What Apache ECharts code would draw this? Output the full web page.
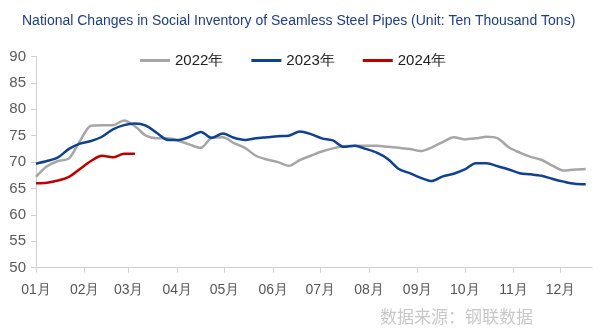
<!DOCTYPE html>
<html>
<head>
<meta charset="utf-8">
<script src="https://cdn.jsdelivr.net/npm/echarts@6/dist/echarts.min.js"></script>
<style>html,body{margin:0;padding:0;background:#fff;}#c{width:600px;height:329px;}</style>
</head>
<body>
<div id="c"></div>
<script>
// Weekly data points (week index 0 = first week of January, one point per week)
const seriesNames = ['2022年', '2023年', '2024年'];
const data2022 = [67.2,69.2,70.2,70.7,74.0,76.9,77.0,77.0,77.9,76.8,75.0,74.5,74.5,74.0,73.3,72.7,74.6,74.7,73.6,72.7,71.2,70.5,70.0,69.3,70.4,71.2,72.0,72.6,73.0,73.1,73.1,73.1,72.9,72.7,72.5,72.1,72.8,73.8,74.7,74.3,74.5,74.8,74.5,72.8,71.8,71.0,70.4,69.3,68.4,68.6,68.7];
const data2023 = [69.7,70.2,70.9,72.5,73.5,74.0,74.8,76.2,77.0,77.3,76.9,75.5,74.2,74.2,74.8,75.7,74.6,75.4,74.6,74.2,74.5,74.7,74.9,75.0,75.8,75.3,74.5,74.1,72.9,73.1,72.5,71.8,70.6,68.7,67.9,67.0,66.4,67.3,67.8,68.6,69.8,69.8,69.2,68.6,67.9,67.7,67.4,66.8,66.3,65.9,65.8];
const data2024 = [66.0,66.1,66.5,67.2,68.7,70.2,71.2,70.9,71.6,71.6];
const monthStartDays = [0,31,59,90,120,151,181,212,243,273,304,334];
const monthLabels = ['01月','02月','03月','04月','05月','06月','07月','08月','09月','10月','11月','12月'];
const yTicks = [50,55,60,65,70,75,80,85,90];
const colors = ['#A6A6A6', '#0E4194', '#C00000'];

const toPoints = arr => arr.map((v, i) => [i * 7, v]);

const chart = echarts.init(document.getElementById('c'));
chart.setOption({
  animation: false,
  backgroundColor: '#fff',
  title: {
    text: 'National Changes in Social Inventory of Seamless Steel Pipes (Unit: Ten Thousand Tons)',
    left: 17, top: 9,
    textStyle: { fontFamily: 'Liberation Sans', fontSize: 14, fontWeight: 'normal', color: '#1F3C88' }
  },
  legend: {
    left: 135, top: 48, itemGap: 28, itemWidth: 30, itemHeight: 3, icon: 'rect',
    textStyle: { fontFamily: 'Liberation Sans', fontSize: 15, color: '#222' },
    data: seriesNames
  },
  grid: { left: 36, right: 8, top: 56.5, bottom: 61.3, containLabel: false },
  xAxis: {
    type: 'value', min: 0, max: 354,
    splitLine: { show: false },
    axisLine: { lineStyle: { color: '#D0D0D0' } },
    axisTick: { customValues: monthStartDays, length: 5, lineStyle: { color: '#D0D0D0' } },
    axisLabel: {
      customValues: monthStartDays, margin: 15,
      fontFamily: 'Liberation Sans', fontSize: 14, color: '#555',
      formatter: v => monthLabels[monthStartDays.indexOf(v)]
    }
  },
  yAxis: {
    type: 'value', min: yTicks[0], max: yTicks[yTicks.length - 1], interval: 5,
    splitLine: { show: false },
    axisLine: { show: true, lineStyle: { color: '#D0D0D0' } },
    axisTick: { show: true, length: 5, lineStyle: { color: '#D0D0D0' } },
    axisLabel: { margin: 10, fontFamily: 'Liberation Sans', fontSize: 15, color: '#5a5a5a' }
  },
  series: [data2022, data2023, data2024].map((d, k) => ({
    name: seriesNames[k], type: 'line', data: toPoints(d),
    symbol: 'none', smooth: 0.3,
    lineStyle: { width: 2.5, color: colors[k] },
    itemStyle: { color: colors[k] },
    z: 2 + k
  })),
  graphic: [{
    type: 'text', left: 380, top: 308,
    style: { text: '数据来源：钢联数据', font: '17px "Noto Sans CJK SC"', fill: '#C8C8C8' }
  }]
});
</script>
</body>
</html>
